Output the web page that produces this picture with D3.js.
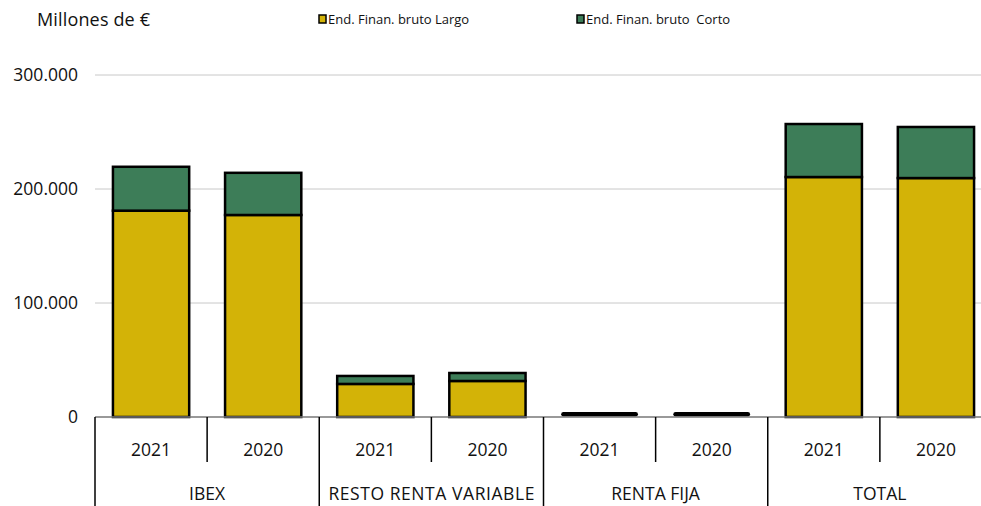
<!DOCTYPE html>
<html><head><meta charset="utf-8">
<script src="https://cdn.jsdelivr.net/npm/d3@7"></script>
<style>body{margin:0;background:#fff}svg{display:block;font-family:"Open Sans",sans-serif}text{white-space:pre}</style>
</head><body><svg id="c" width="981" height="506"></svg>
<script>
const groups = ["IBEX","RESTO RENTA VARIABLE","RENTA FIJA","TOTAL"];
const years = ["2021","2020"];
const largo = [181000,177200,29000,31600,1500,1500,210500,209600];
const corto = [38500,37000,7000,7000,500,500,46500,44800];
const yTicks = [0,100000,200000,300000];
const seriesNames = ["End. Finan. bruto Largo","End. Finan. bruto  Corto"];
const colors = ["#D3B307","#3D7D58"];

const svg = d3.select("#c");
const x0 = 95, x1 = 992, yBase = 417;
const keys = [];
groups.forEach(g => years.forEach(yr => keys.push(g + "|" + yr)));
const x = d3.scaleBand().domain(keys).range([x0, x1]).paddingInner(0.32).paddingOuter(0.16);
const slot = (x1 - x0) / keys.length;
const y = d3.scaleLinear().domain([0,300000]).range([yBase, 75]);
const fmt = v => d3.format(",")(v).replace(/,/g,".");

// gridlines
svg.append("g").selectAll("line").data(yTicks.slice(1)).join("line")
  .attr("x1", x0).attr("x2", x1).attr("y1", d => y(d)).attr("y2", d => y(d))
  .attr("stroke", "#c8c8c8").attr("stroke-width", 1);
// y labels
svg.append("g").selectAll("text").data(yTicks).join("text")
  .attr("x", 78).attr("y", d => y(d)).attr("dy", "0.35em").attr("text-anchor", "end")
  .attr("font-size", 17.5).attr("fill", "#111").text(fmt);

// bars
const data = keys.map((k, i) => ({k, l: largo[i], c: corto[i]}));
const bars = svg.append("g");
data.forEach(d => {
  const bx = x(d.k), bw = x.bandwidth();
  const h = y(0) - y(d.l + d.c);
  if (h < 6) {
    bars.append("line").attr("x1", bx + 2).attr("x2", bx + bw - 2)
      .attr("y1", y(d.l + d.c) - 0.5).attr("y2", y(d.l + d.c) - 0.5)
      .attr("stroke", "#000").attr("stroke-width", 4.5).attr("stroke-linecap", "round");
    return;
  }
  bars.append("rect").attr("x", bx).attr("width", bw).attr("y", y(d.l)).attr("height", y(0) - y(d.l))
    .attr("fill", colors[0]).attr("stroke", "#000").attr("stroke-width", 2.5);
  bars.append("rect").attr("x", bx).attr("width", bw).attr("y", y(d.l + d.c)).attr("height", y(d.l) - y(d.l + d.c))
    .attr("fill", colors[1]).attr("stroke", "#000").attr("stroke-width", 2.5);
});

// baseline
svg.append("line").attr("x1", x0).attr("x2", x1).attr("y1", yBase).attr("y2", yBase)
  .attr("stroke", "#777").attr("stroke-width", 1.5);
// axis separators
const ax = svg.append("g");
keys.forEach((k, i) => {
  const xs = x0 + i * slot;
  const isGroup = i % 2 === 0;
  ax.append("line").attr("x1", xs).attr("x2", xs).attr("y1", yBase).attr("y2", isGroup ? 506 : 462)
    .attr("stroke", "#000").attr("stroke-width", 1.5);
  ax.append("text").attr("x", x(k) + x.bandwidth() / 2).attr("y", 450).attr("dy", "0.35em")
    .attr("text-anchor", "middle").attr("font-size", 17.5).attr("fill", "#111").text(k.split("|")[1]);
});
ax.append("line").attr("x1", x1).attr("x2", x1).attr("y1", yBase).attr("y2", 506).attr("stroke", "#000").attr("stroke-width", 1.5);
groups.forEach((g, i) => {
  ax.append("text").attr("x", x0 + (i * 2 + 1) * slot).attr("y", 494).attr("dy", "0.35em")
    .attr("text-anchor", "middle").attr("font-size", 17.5).attr("fill", "#111")
    .attr("textLength", i === 1 ? 206 : null).text(g);
});

// title
svg.append("text").attr("x", 37).attr("y", 20).attr("dy", "0.35em").attr("font-size", 18)
  .attr("fill", "#111").attr("textLength", 113).text("Millones de €");
// legend
const legX = [319, 577];
seriesNames.forEach((s, i) => {
  svg.append("rect").attr("x", legX[i]).attr("y", 15).attr("width", 7).attr("height", 8)
    .attr("fill", colors[i]).attr("stroke", "#000").attr("stroke-width", 1.5);
  svg.append("text").attr("x", legX[i] + 9).attr("y", 19).attr("dy", "0.35em")
    .attr("font-size", 13).attr("fill", "#111").text(s);
});
</script></body></html>
